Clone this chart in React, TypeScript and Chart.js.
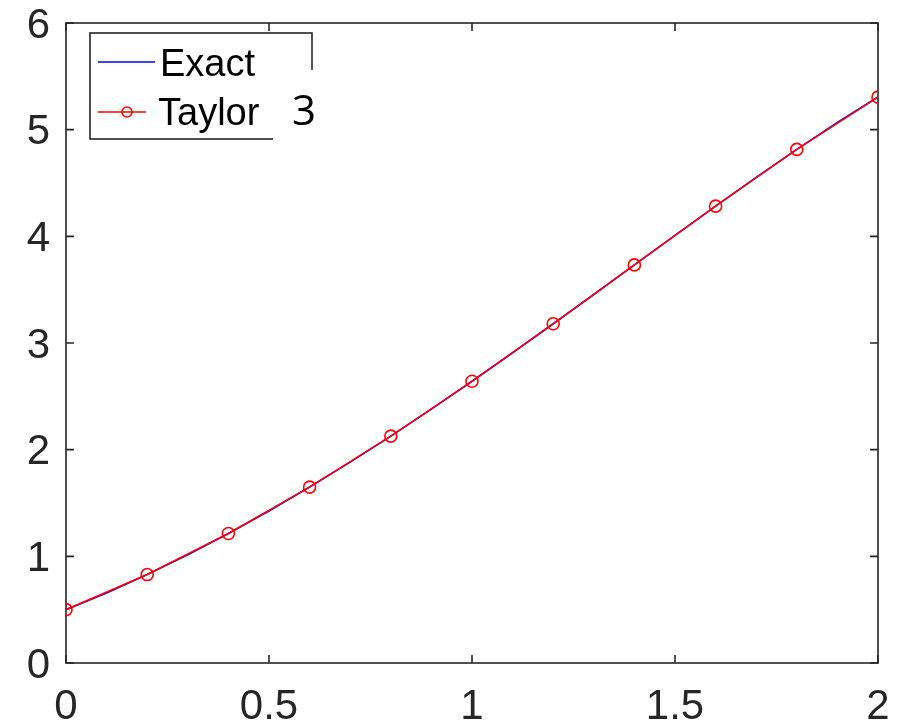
import React, { useEffect, useRef } from "react";
import { Chart, registerables } from "chart.js";

Chart.register(...registerables);

const exactX = [0, 0.1, 0.2, 0.3, 0.4, 0.5, 0.6, 0.7, 0.8, 0.9, 1.0, 1.1, 1.2, 1.3, 1.4, 1.5, 1.6, 1.7, 1.8, 1.9, 2.0];
const exactY = [0.5, 0.657, 0.829, 1.015, 1.214, 1.426, 1.649, 1.883, 2.127, 2.38, 2.641, 2.908, 3.18, 3.455, 3.732, 4.009, 4.283, 4.553, 4.815, 5.067, 5.306];
const taylorX = [0, 0.2, 0.4, 0.6, 0.8, 1.0, 1.2, 1.4, 1.6, 1.8, 2.0];
const taylorY = [0.5, 0.829, 1.214, 1.649, 2.127, 2.641, 3.18, 3.732, 4.283, 4.815, 5.305];
const xTicks = [0, 0.5, 1, 1.5, 2];
const xTickLabels = ["0", "0.5", "1", "1.5", "2"];
const yTicks = [0, 1, 2, 3, 4, 5, 6];
const yTickLabels = ["0", "1", "2", "3", "4", "5", "6"];
const legendLabels = ["Exact", "Taylor"];
const overlayText = "3";

const AXIS = "#262626";
const TICK_FONT = "'Liberation Sans', Arial, Helvetica, sans-serif";

const boxPlugin = {
  id: "matlabBox",
  beforeDatasetsDraw(chart: any) {
    const { ctx, chartArea } = chart;
    const xs = chart.scales.x;
    const ys = chart.scales.y;
    const { left, right, top, bottom } = chartArea;
    ctx.save();
    ctx.strokeStyle = AXIS;
    ctx.lineWidth = 1.6;
    ctx.strokeRect(left, top, right - left, bottom - top);
    const tl = 8;
    ctx.beginPath();
    xTicks.forEach((v) => {
      const px = xs.getPixelForValue(v);
      ctx.moveTo(px, bottom);
      ctx.lineTo(px, bottom - tl);
      ctx.moveTo(px, top);
      ctx.lineTo(px, top + tl);
    });
    yTicks.forEach((v) => {
      const py = ys.getPixelForValue(v);
      ctx.moveTo(left, py);
      ctx.lineTo(left + tl, py);
      ctx.moveTo(right, py);
      ctx.lineTo(right - tl, py);
    });
    ctx.stroke();
    ctx.restore();
  },
  afterDraw(chart: any) {
    const { ctx } = chart;
    ctx.save();
    const L = 90, T = 33, R = 312, B = 139;
    ctx.fillStyle = "#ffffff";
    ctx.fillRect(L, T, R - L, B - T);
    ctx.strokeStyle = AXIS;
    ctx.lineWidth = 1.6;
    ctx.strokeRect(L, T, R - L, B - T);
    ctx.strokeStyle = "#0000ff";
    ctx.lineWidth = 1.6;
    ctx.beginPath();
    ctx.moveTo(98, 62);
    ctx.lineTo(155, 62);
    ctx.stroke();
    ctx.strokeStyle = "#ff0000";
    ctx.beginPath();
    ctx.moveTo(98, 112);
    ctx.lineTo(146, 112);
    ctx.stroke();
    ctx.beginPath();
    ctx.arc(127, 112, 5, 0, Math.PI * 2);
    ctx.stroke();
    ctx.fillStyle = "#000000";
    ctx.font = "38px " + TICK_FONT;
    ctx.textBaseline = "alphabetic";
    ctx.textAlign = "left";
    ctx.fillText(legendLabels[0], 160, 76);
    ctx.fillText(legendLabels[1], 158, 125);
    ctx.fillStyle = "#ffffff";
    ctx.fillRect(273, 70, 50, 72);
    ctx.fillStyle = "#000000";
    ctx.font = "42px 'Open Sans', sans-serif";
    ctx.fillText(overlayText, 292, 125);
    ctx.restore();
  },
};

const zeroPad = (s: any) => {
  s.paddingLeft = 0;
  s.paddingRight = 0;
  s.paddingTop = 0;
  s.paddingBottom = 0;
};

export default function App() {
  const ref = useRef<HTMLCanvasElement | null>(null);
  useEffect(() => {
    const canvas = ref.current;
    if (!canvas) return;
    const chart = new Chart(canvas, {
      type: "line",
      data: {
        datasets: [
          {
            label: legendLabels[0],
            data: exactX.map((x, i) => ({ x, y: exactY[i] })),
            borderColor: "#0000ff",
            borderWidth: 1.7,
            pointRadius: 0,
            fill: false,
            tension: 0,
            order: 2,
          },
          {
            label: legendLabels[1],
            data: taylorX.map((x, i) => ({ x, y: taylorY[i] })),
            borderColor: "#ff0000",
            borderWidth: 1.6,
            pointRadius: 6,
            pointBorderWidth: 1.6,
            pointBorderColor: "#ff0000",
            pointBackgroundColor: "rgba(0,0,0,0)",
            fill: false,
            tension: 0,
            order: 1,
          },
        ],
      },
      options: {
        animation: false,
        responsive: false,
        devicePixelRatio: 1,
        layout: { padding: { top: 23, right: 24, left: 0, bottom: 0 } },
        plugins: { legend: { display: false }, tooltip: { enabled: false } },
        scales: {
          x: {
            type: "linear",
            min: 0,
            max: 2,
            afterFit: (s: any) => { s.height = 61; zeroPad(s); },
            afterBuildTicks: (s: any) => { s.ticks = xTicks.map((v) => ({ value: v })); },
            grid: { display: false, drawTicks: false },
            border: { display: false },
            ticks: {
              padding: 19,
              color: AXIS,
              font: { size: 42, family: TICK_FONT },
              maxRotation: 0,
              autoSkip: false,
              callback: (_v: any, i: number) => xTickLabels[i],
            },
          },
          y: {
            type: "linear",
            min: 0,
            max: 6,
            afterFit: (s: any) => { s.width = 66; zeroPad(s); },
            afterBuildTicks: (s: any) => { s.ticks = yTicks.map((v) => ({ value: v })); },
            grid: { display: false, drawTicks: false },
            border: { display: false },
            ticks: {
              padding: 16,
              labelOffset: 3,
              color: AXIS,
              font: { size: 42, family: TICK_FONT },
              autoSkip: false,
              callback: (_v: any, i: number) => yTickLabels[i],
            },
          },
        },
      },
      plugins: [boxPlugin],
    });
    return () => chart.destroy();
  }, []);
  return (
    <div style={{ position: "absolute", left: 0, top: 0, width: 902, height: 724, background: "#fff" }}>
      <canvas ref={ref} width={902} height={724} style={{ display: "block" }} />
    </div>
  );
}
